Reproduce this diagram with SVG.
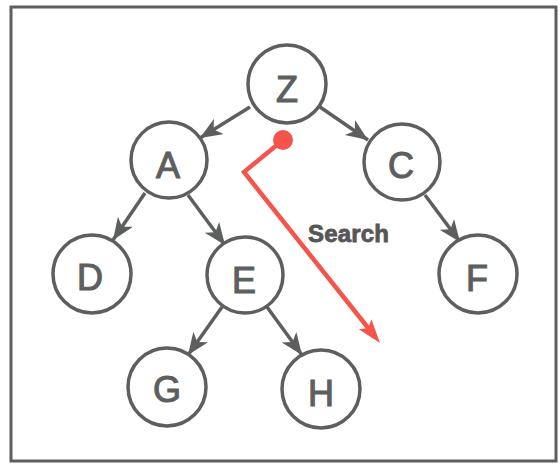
<svg xmlns="http://www.w3.org/2000/svg" width="560" height="464" viewBox="0 0 560 464">
<style>
.node circle{fill:#fff;stroke:#5d5f5e;stroke-width:3.5}
.node text{font-family:"Liberation Sans",Arial,sans-serif;font-size:36px;fill:#5d5f5e;stroke:#5d5f5e;stroke-width:1.1;text-anchor:middle}
.edge{stroke:#5d5f5e;stroke-width:3.5;fill:none;marker-end:url(#ah)}
</style>
<defs>
<marker id="ah" markerUnits="userSpaceOnUse" markerWidth="24" markerHeight="20" refX="22" refY="9" orient="auto">
<path d="M0,0 L22,9 L0,18 L6,9 z" fill="#5d5f5e"/>
</marker>
</defs>
<rect x="11" y="7" width="545" height="454" fill="#fff" stroke="#5d5f5e" stroke-width="3"/>
<g id="connectors">
<line class="edge" x1="250" y1="107" x2="200" y2="138"/>
<line class="edge" x1="320" y1="107" x2="368" y2="140"/>
<line class="edge" x1="145" y1="193" x2="113" y2="240"/>
<line class="edge" x1="188" y1="195" x2="225" y2="245"/>
<line class="edge" x1="222" y1="307" x2="188" y2="355"/>
<line class="edge" x1="267" y1="307" x2="302" y2="355"/>
<line class="edge" x1="425" y1="195" x2="460" y2="242"/>
</g>
<g id="search">
<circle cx="283" cy="140" r="10" fill="#f5544c"/>
<polyline points="283,140 244,172 369,329" fill="none" stroke="#f5544c" stroke-width="4.5" stroke-linejoin="miter"/>
<polygon points="380,343 358.8,329.2 368.2,328.1 371.4,319.2" fill="#f5544c"/>
<text x="308" y="242" font-family="Liberation Sans,Arial,sans-serif" font-size="24" font-weight="bold" fill="#555756" stroke="#555756" stroke-width="0.8" textLength="81">Search</text>
</g>
<g id="node-Z" class="node"><circle cx="287" cy="84" r="39"/><text x="287" y="102">Z</text></g>
<g id="node-A" class="node"><circle cx="169" cy="160" r="38"/><text x="168" y="178">A</text></g>
<g id="node-C" class="node"><circle cx="402" cy="162" r="38"/><text x="401" y="178">C</text></g>
<g id="node-D" class="node"><circle cx="92" cy="274" r="39"/><text x="90" y="290">D</text></g>
<g id="node-E" class="node"><circle cx="245" cy="275" r="38"/><text x="244" y="293">E</text></g>
<g id="node-F" class="node"><circle cx="478" cy="274" r="39"/><text x="477" y="291">F</text></g>
<g id="node-G" class="node"><circle cx="167" cy="387" r="39"/><text x="167" y="402">G</text></g>
<g id="node-H" class="node"><circle cx="321" cy="389" r="39"/><text x="321" y="406">H</text></g>
</svg>
